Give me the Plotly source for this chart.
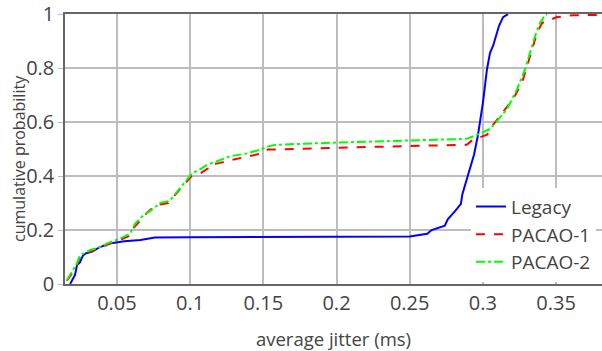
import plotly.graph_objects as go

legacy_x = [0.018, 0.019, 0.0213, 0.0227, 0.0247, 0.0268, 0.029, 0.033, 0.038, 0.045, 0.055, 0.066, 0.0725, 0.076,
            0.1, 0.2, 0.25, 0.262, 0.265, 0.274, 0.276, 0.281, 0.285, 0.286, 0.289, 0.2925, 0.294, 0.2967, 0.298,
            0.3001, 0.3028, 0.3049, 0.307, 0.309, 0.311, 0.3138, 0.3172]
legacy_y = [0.0, 0.01, 0.033, 0.07, 0.08, 0.106, 0.114, 0.12, 0.136, 0.15, 0.158, 0.163, 0.168, 0.172,
            0.173, 0.174, 0.176, 0.186, 0.2, 0.216, 0.24, 0.27, 0.297, 0.333, 0.39, 0.45, 0.48, 0.553, 0.6,
            0.674, 0.795, 0.857, 0.883, 0.919, 0.956, 0.989, 1.0]

pacao1_x = [0.0158, 0.02, 0.0227, 0.0247, 0.028, 0.0315, 0.038, 0.045, 0.052, 0.059, 0.061, 0.0705, 0.077, 0.085,
            0.088, 0.094, 0.098, 0.101, 0.107, 0.112, 0.1136, 0.119, 0.127, 0.139, 0.149, 0.153, 0.1546, 0.2,
            0.25, 0.289, 0.293, 0.3029, 0.307, 0.3138, 0.3206, 0.3268, 0.3302, 0.3336, 0.337, 0.3404, 0.3459,
            0.3507, 0.3616, 0.381]
pacao1_y = [0.012, 0.045, 0.072, 0.1, 0.11, 0.12, 0.132, 0.15, 0.163, 0.18, 0.205, 0.264, 0.293, 0.30,
            0.319, 0.355, 0.381, 0.40, 0.41, 0.428, 0.443, 0.447, 0.458, 0.472, 0.484, 0.498, 0.498, 0.505,
            0.511, 0.516, 0.534, 0.553, 0.59, 0.637, 0.685, 0.747, 0.809, 0.868, 0.93, 0.967, 0.978,
            0.989, 0.996, 0.997]

pacao2_x = [0.0158, 0.02, 0.0227, 0.0247, 0.028, 0.0315, 0.038, 0.045, 0.052, 0.059, 0.0623, 0.0678, 0.0746,
            0.0794, 0.086, 0.0896, 0.0944, 0.0978, 0.1013, 0.1067, 0.112, 0.118, 0.127, 0.139, 0.148, 0.1525,
            0.159, 0.2, 0.25, 0.289, 0.298, 0.305, 0.312, 0.3165, 0.3234, 0.3288, 0.3322, 0.3357, 0.339,
            0.3425, 0.3439]
pacao2_y = [0.015, 0.05, 0.077, 0.106, 0.114, 0.125, 0.136, 0.154, 0.168, 0.187, 0.223, 0.253, 0.278,
            0.30, 0.308, 0.333, 0.363, 0.388, 0.41, 0.425, 0.443, 0.454, 0.473, 0.484, 0.498, 0.509,
            0.516, 0.524, 0.531, 0.538, 0.557, 0.575, 0.619, 0.648, 0.722, 0.795, 0.857, 0.919, 0.967,
            0.996, 1.0]

x_ticks = [0.05, 0.1, 0.15, 0.2, 0.25, 0.3, 0.35]
x_tick_labels = ["0.05", "0.1", "0.15", "0.2", "0.25", "0.3", "0.35"]
y_ticks = [0, 0.2, 0.4, 0.6, 0.8, 1]
y_tick_labels = ["0", "0.2", "0.4", "0.6", "0.8", "1"]

fig = go.Figure()
fig.add_trace(go.Scatter(x=legacy_x, y=legacy_y, mode="lines", name="Legacy",
                         line=dict(color="#0000ff", width=2)))
fig.add_trace(go.Scatter(x=pacao1_x, y=pacao1_y, mode="lines", name="PACAO-1",
                         line=dict(color="#ff0000", width=2, dash="dash")))
fig.add_trace(go.Scatter(x=pacao2_x, y=pacao2_y, mode="lines", name="PACAO-2",
                         line=dict(color="#00ff00", width=2, dash="dashdot")))

font_family = "Open Sans"
fig.update_layout(
    width=602, height=351,
    margin=dict(l=65, r=0, t=11, b=67),
    plot_bgcolor="white", paper_bgcolor="white",
    font=dict(family=font_family, size=18, color="#444"),
    showlegend=True,
    legend=dict(x=0.756, y=0.357, xanchor="left", yanchor="top",
                bgcolor="white", font=dict(size=19, color="#444"),
                tracegroupgap=0),
    xaxis=dict(range=[0.0145, 0.3814], tickvals=x_ticks, ticktext=x_tick_labels,
               showgrid=True, gridcolor="#bdbdbd", gridwidth=1.5,
               showline=True, linecolor="#666", linewidth=1.5, mirror=True,
               zeroline=False, ticks="", tickfont=dict(size=20),
               title=dict(text="average jitter (ms)", font=dict(size=18.5), standoff=18)),
    yaxis=dict(range=[0, 1.0005], tickvals=y_ticks, ticktext=y_tick_labels,
               showgrid=True, gridcolor="#bdbdbd", gridwidth=1.5,
               showline=True, linecolor="#666", linewidth=1.5,
               zeroline=False, ticks="outside", ticklen=5, tickcolor="#bdbdbd",
               tickfont=dict(size=20), ticklabeloverflow="allow"),
    annotations=[dict(text="cumulative probability", textangle=-90,
                      xref="paper", yref="paper", x=-46 / 537, y=0.5, yshift=-10,
                      xanchor="center", yanchor="middle", showarrow=False,
                      font=dict(size=16, color="#444"))],
)

fig.write_html("out.html")
